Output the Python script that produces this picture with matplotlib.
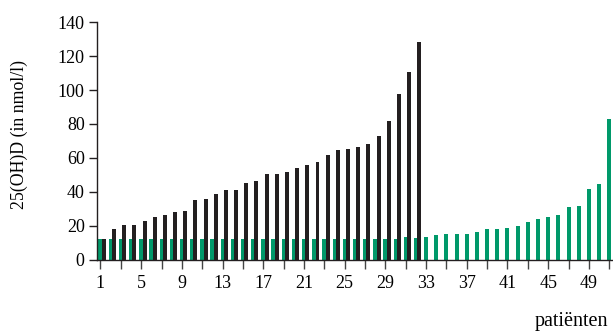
import matplotlib.pyplot as plt
import numpy as np

plt.rcParams['font.family'] = ['Liberation Serif', 'DejaVu Serif']

# patient numbers 1..51
patients = np.arange(1, 52)

# black series: patients 1-32
black_vals = [12.0, 18.1, 20.2, 20.2, 22.8, 25.2, 26.3, 28.1, 28.7, 35.2,
              35.8, 38.7, 41.1, 41.1, 45.2, 46.4, 50.5, 50.5, 51.7, 54.0,
              55.8, 57.6, 61.7, 64.7, 65.3, 66.4, 68.2, 72.9, 81.8, 97.7,
              110.7, 128.3]

# green series: all patients
green_vals = [12.0] * 30 + [13.2, 12.6,
              13.4, 14.5, 15.1, 15.1, 15.1, 16.3, 18.1, 18.1, 18.7, 19.9,
              22.2, 24.0, 25.2, 26.3, 31.1, 31.6, 41.7, 44.6, 82.9]

xtick_pos = np.arange(1, 52, 2)
xtick_labels = [str(p) if (p - 1) % 4 == 0 else '' for p in xtick_pos]
ytick_pos = np.arange(0, 141, 20)

green = '#00996a'
black = '#231f20'

fig = plt.figure(figsize=(6.13, 3.31), dpi=100)
ax = fig.add_axes([96.5 / 613, 1 - 259.5 / 331, (613 - 96.5) / 613, (259.5 - 22.3) / 331])

ax.bar(patients, green_vals, width=0.39, color=green, zorder=2)
ax.bar(patients[:len(black_vals)] + 0.33, black_vals, width=0.39, color=black, zorder=3)

ax.set_xlim(0.61, 51.37)
ax.set_ylim(0, 140)

ax.spines['top'].set_visible(False)
ax.spines['right'].set_visible(False)
ax.spines['left'].set_color(black)
ax.spines['bottom'].set_color(black)
ax.spines['left'].set_linewidth(1.0)
ax.spines['bottom'].set_linewidth(1.0)

ax.set_xticks(xtick_pos)
ax.set_xticklabels(xtick_labels)
ax.set_yticks(ytick_pos)
ax.tick_params(axis='x', length=6.5, width=1.0, color='#444444', labelsize=13, pad=5)
ax.tick_params(axis='y', length=6, width=1.0, color=black, labelsize=13, pad=2.5)

ax.set_ylabel('25(OH)D (in nmol/l)', fontsize=12.8)
ax.yaxis.set_label_coords(-0.133, 0.529)
fig.text(608 / 613, 1 - 325.7 / 331, 'patiënten', fontsize=14.5, ha='right', va='baseline')

fig.savefig('out.png', dpi=100)
